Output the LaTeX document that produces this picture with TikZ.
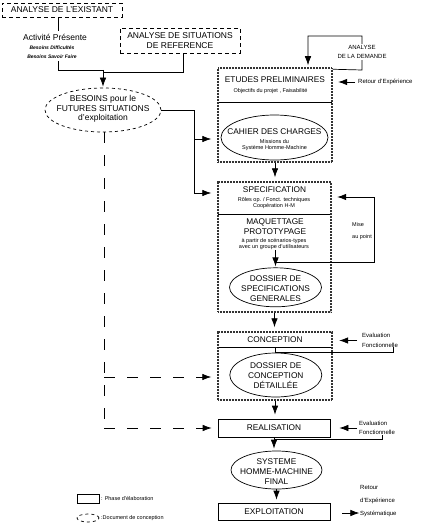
\documentclass[tikz,border=0pt]{standalone}
\usepackage{fontspec}
\setmainfont{Liberation Sans}
\usetikzlibrary{arrows.meta,shapes.geometric,positioning,calc}
\newcommand{\txtbig}{\fontsize{8.5}{9.5}\selectfont}
\newcommand{\txtmain}{\fontsize{8.3}{10}\selectfont}
\newcommand{\txtnote}{\fontsize{6}{7}\selectfont}
\newcommand{\txtsmall}{\fontsize{5.5}{5}\selectfont}

\begin{document}
\begin{tikzpicture}[x=1pt, y=-1pt, >={Latex[length=9pt,width=6.5pt]},
    every node/.style={inner sep=0pt, align=center},
    link/.style={line width=0.7pt},
    arr/.style={link, ->},
    phase/.style={draw, line width=0.7pt, rectangle},
    framebox/.style={draw=black!80, line width=1.5pt, dash pattern=on 0.75pt off 0.75pt, rectangle},
    docu/.style={draw, line width=0.7pt, ellipse},
    draftbox/.style={draw, line width=0.7pt, dash pattern=on 4pt off 3pt},
    draftline/.style={link, dash pattern=on 11pt off 12pt},
    blank/.style={fill=white, inner xsep=1pt, inner ysep=3pt}]
\useasboundingbox (0,0) rectangle (422,524);

% Analyses en amont
\node[draftbox, minimum width=120pt, minimum height=14pt, font=\txtbig] (existant) at (62,10) {ANALYSE DE L'EXISTANT};
\node[draftbox, minimum width=120pt, minimum height=25pt, font=\txtbig] (situations) at (180,40.5) {ANALYSE DE SITUATIONS\\DE REFERENCE};
\node[docu, dashed, minimum width=116pt, minimum height=44pt] (besoins) at (103,110) {};
\node[font=\txtbig] (besoinstxt) at (103,109) {BESOINS pour le\\FUTURES SITUATIONS\\d'exploitation};
\coordinate (merge) at (103,70);
\draw[link] ([xshift=-4pt]existant.south) |- (merge);
\draw[link] ([xshift=3pt]situations.south) |- ([yshift=-2pt]merge);
\draw[arr, shorten >=1pt] (merge) -- (besoins.north);
\node[blank, font=\txtbig] (activite) at (55,37) {Activité Présente};
\node[blank, font=\bfseries\itshape\fontsize{5}{9}\selectfont] (besoinsex) at (52,52) {Besoins Difficultés\\Besoins Savoir Faire};

% Etudes preliminaires
\node[minimum width=114pt, minimum height=34pt] (etudes) at (275,85) {};
\draw[link] (etudes.south west) -- (etudes.south east);
\node[framebox, minimum width=114pt, minimum height=94pt] (etudesframe) at (275,115) {};
\node[font=\txtmain] (etudestitle) at (275,80) {ETUDES PRELIMINAIRES};
\node[font=\txtsmall] (etudessub) at (270.5,90.7) {Objectifs du projet , Faisabilité};
\node[docu, minimum width=107pt, minimum height=45pt] (cahier) at (274.5,137.5) {};
\node[font=\txtmain] (cahiertitle) at (274.5,131.7) {CAHIER DES CHARGES};
\node[font=\fontsize{5.5}{6}\selectfont] (cahiersub) at (274.5,144.7) {Missions du\\Système Homme-Machine};

% Specification et maquettage
\node[minimum width=113pt, minimum height=32pt] (specbox) at (274.5,198) {};
\draw[link] (specbox.south west) -- (specbox.south east);
\node[framebox, minimum width=113pt, minimum height=130pt] (specframe) at (274.5,247) {};
\node[font=\txtmain] (spectitle) at (274.5,190) {SPECIFICATION};
\node[font=\txtsmall] (specsub) at (274,203) {Rôles op. / Fonct. techniques\\Coopération H-M};
\node[font=\txtmain] (maquette) at (275,226.7) {MAQUETTAGE\\PROTOTYPAGE};
\node[font=\txtsmall] (maquettesub) at (274,244) {à partir de scénarios-types\\avec un groupe d'utilisateurs};
\node[docu, minimum width=92pt, minimum height=39pt] (dosspec) at (275.5,287.3) {};
\node[font=\txtmain] (dosspectxt) at (275.5,288.6) {DOSSIER DE\\SPECIFICATIONS\\GENERALES};

% Conception
\node[minimum width=114pt, minimum height=15pt] (conception) at (275,339.5) {};
\draw[link] (conception.south west) -- (conception.south east);
\node[framebox, minimum width=114pt, minimum height=68pt] (concframe) at (275,366) {};
\node[font=\txtmain] (conctitle) at (275,339.5) {CONCEPTION};
\node[docu, minimum width=92pt, minimum height=44pt] (dossconc) at (275.8,375) {};
\node[font=\txtmain] (dossconctxt) at (275.8,376) {DOSSIER DE\\CONCEPTION\\DÉTAILLÉE};

% Realisation, systeme final, exploitation
\node[phase, minimum width=112pt, minimum height=18pt, font=\txtmain] (realisation) at (274,428) {REALISATION};
\node[docu, minimum width=91pt, minimum height=38pt] (systeme) at (276.5,470) {};
\node[font=\txtmain] (systemetxt) at (276.5,472) {SYSTEME\\HOMME-MACHINE\\FINAL};
\node[phase, minimum width=112pt, minimum height=17pt, font=\txtmain] (exploitation) at (274,511.5) {EXPLOITATION};

% Enchainement principal
\draw[arr, shorten >=4pt] (etudesframe.south) -- (etudesframe.south |- specframe.north);
\draw[arr, shorten >=1pt] (dosspec.north |- maquettesub.south) -- (dosspec.north);
\draw[arr, shorten >=4pt] (specframe.south) -- (specframe.south |- concframe.north);
\draw[arr, shorten >=4pt] (concframe.south) -- (concframe.south |- realisation.north);
\draw[arr, shorten >=2pt] (realisation.south) -- (realisation.south |- systeme.north);
\draw[arr, shorten >=3pt] (systeme.south) -- (systeme.south |- exploitation.north);

% Besoins vers les phases
\draw[link] (besoins.east) -| (194,193) coordinate (railend);
\coordinate (railmid) at (194,139);
\draw[arr, shorten >=6pt] (railmid) -- (etudesframe.west |- railmid);
\draw[arr, shorten >=6pt] (railend) -- (specframe.west |- railend);
\coordinate (draftA) at (104,377);
\coordinate (draftB) at (104,428);
\draw[draftline] (besoins.south -| draftB) -- (draftB);
\draw[draftline, ->, shorten >=6pt] (draftA) -- (concframe.west |- draftA);
\draw[draftline, ->, shorten >=6pt] (draftB) -- (realisation.west |- draftB);

% Analyse de la demande
\coordinate (demA) at (362,70);
\coordinate (demB) at (362,36);
\coordinate (demC) at (308,36);
\draw[arr, shorten >=2pt] ([yshift=-2pt]etudesframe.north east) -- (demA) -- (demB) -- (demC) -- (demC |- etudesframe.north);
\node[blank, inner ysep=1pt, font=\fontsize{6}{9.4}\selectfont] (demande) at (362,52) {ANALYSE\\DE LA DEMANDE};

% Retours
\node[font=\txtnote, anchor=west] (retour) at (358,82) {Retour d'Expérience};
\draw[arr, shorten >=6pt] ([xshift=-3pt]retour.west) -- (etudes.east |- retour.west);
\coordinate (miseA) at (275,262);
\coordinate (miseB) at (374,262);
\coordinate (miseC) at (374,197);
\draw[arr, shorten >=6pt] (miseA) -- (miseB) -- (miseC) -- (specbox.east |- miseC);
\node[font=\fontsize{5.5}{12.5}\selectfont, anchor=east, align=left] (mise) at (372,231) {Mise\\au point};
\node[font=\fontsize{6}{10.5}\selectfont, anchor=west, align=left] (eval1) at (362,340.5) {Evaluation\\Fonctionnelle};
\draw[arr, shorten >=7pt] ([xshift=-5pt]eval1.west) -- (conception.east |- eval1.west);
\draw[link] (conception.south) -- ++(0,5) -| (393,347);
\node[font=\fontsize{6}{9.5}\selectfont, anchor=west, align=left] (eval2) at (359,428) {Evaluation\\Fonctionnelle};
\draw[arr, shorten >=9pt] ([xshift=-2pt]eval2.west) -- (realisation.east |- eval2.west);
\draw[link] (realisation.south) -- ++(0,2) -| (382.7,435);
\node[font=\fontsize{6}{13}\selectfont, anchor=west, align=left] (retour2) at (360,501) {Retour\\d'Expérience\\Systématique};
\draw[arr] ([xshift=12pt,yshift=-1.5pt]exploitation.east) -- ++(17,0);

% Legende
\node[phase, minimum width=22pt, minimum height=9pt] (legphase) at (88,498.5) {};
\node[font=\fontsize{5.5}{6}\selectfont, anchor=west] (legphasetxt) at (101,498.5) {: Phase d'élaboration};
\node[docu, dashed, minimum width=22pt, minimum height=8pt] (legdoc) at (88,518) {};
\node[font=\fontsize{5.5}{6}\selectfont, anchor=west] (legdoctxt) at (101,518) {:Document de conception};
\end{tikzpicture}
\end{document}
